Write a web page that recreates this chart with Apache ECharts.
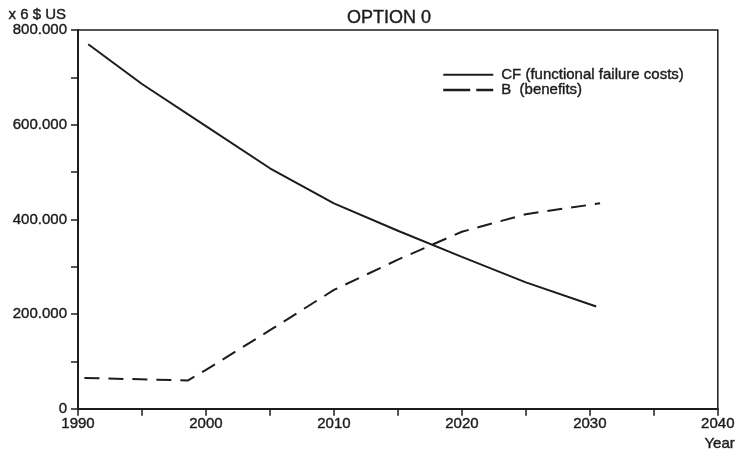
<!DOCTYPE html>
<html>
<head>
<meta charset="utf-8">
<script src="https://cdn.jsdelivr.net/npm/echarts@6/dist/echarts.min.js"></script>
<style>
  html, body { margin: 0; padding: 0; background: #fff; }
  #chart { width: 738px; height: 452px; }
</style>
</head>
<body>
<div id="chart"></div>
<script>
// Functional failure costs and benefits, in thousands (x 10^6 $ US)
const cfYears = [1990.8, 1995, 2000, 2005, 2010, 2015, 2020, 2025, 2030.5];
const cfValues = [770, 686, 597, 508, 434, 376, 321, 267, 216];

const bYears = [1990.5, 1998.6, 2000, 2005, 2010, 2015, 2020, 2025, 2030.8];
const bValues = [65, 60, 82, 166, 251, 315, 374, 411, 434];

const xTicks = [1990, 2000, 2010, 2020, 2030, 2040];
const yTicks = [0, 200, 400, 600, 800];

const seriesNames = ['CF (functional failure costs)', 'B  (benefits)'];

const ink = '#1c1c1c';
const font = 'Liberation Sans, Arial, sans-serif';
// slightly heavier glyphs
const heavy = { textBorderColor: ink, textBorderWidth: 0.4 };

const pairs = (xs, ys) => xs.map((x, i) => [x, ys[i]]);

const chart = echarts.init(document.getElementById('chart'), null, { renderer: 'canvas' });

chart.setOption({
  animation: false,
  backgroundColor: '#fff',
  textStyle: { fontFamily: font, color: ink },
  title: {
    text: 'OPTION 0',
    left: 342,
    top: 4,
    textStyle: Object.assign({ fontFamily: font, fontSize: 18, fontWeight: 'normal', color: ink }, heavy)
  },
  legend: {
    orient: 'vertical',
    left: 437,
    top: 62,
    itemWidth: 50,
    itemHeight: 14,
    itemGap: 0,
    itemStyle: { opacity: 0 },
    textStyle: Object.assign({ fontFamily: font, fontSize: 15, color: ink, padding: [0, 0, 0, 3] }, heavy),
    data: [
      { name: seriesNames[0], itemStyle: { opacity: 0 }, lineStyle: { width: 2, color: ink, type: 'solid' } },
      { name: seriesNames[1], itemStyle: { opacity: 0 }, lineStyle: { width: 2.5, color: ink, type: [27, 6] } }
    ]
  },
  grid: {
    left: 78,
    right: 16,
    top: 30,
    bottom: 43,
    show: true,
    borderColor: ink,
    borderWidth: 1.5,
    backgroundColor: 'transparent'
  },
  xAxis: {
    type: 'value',
    min: xTicks[0],
    max: xTicks[xTicks.length - 1],
    interval: 10,
    name: 'Year',
    nameLocation: 'end',
    nameGap: 17,
    nameTextStyle: Object.assign({
      fontFamily: font, fontSize: 15, color: ink,
      align: 'right', verticalAlign: 'top', padding: [28, 0, 0, 0]
    }, heavy),
    axisLine: { lineStyle: { color: ink, width: 2 } },
    axisTick: { show: true, length: 7, lineStyle: { color: ink, width: 1.5 } },
    minorTick: { show: true, splitNumber: 2, length: 7, lineStyle: { color: ink, width: 1.5 } },
    splitLine: { show: false },
    axisLabel: Object.assign({
      margin: 8,
      fontFamily: font, fontSize: 15, color: ink,
      formatter: v => String(v)
    }, heavy)
  },
  yAxis: {
    type: 'value',
    min: yTicks[0],
    max: yTicks[yTicks.length - 1],
    interval: 200,
    name: 'x 6 $ US',
    nameLocation: 'end',
    nameGap: 8,
    nameTextStyle: Object.assign({
      fontFamily: font, fontSize: 15, color: ink,
      align: 'right', padding: [0, 12, 0, 0]
    }, heavy),
    axisLine: { show: true, lineStyle: { color: ink, width: 2 } },
    axisTick: { show: true, length: 7, lineStyle: { color: ink, width: 1.5 } },
    minorTick: { show: true, splitNumber: 2, length: 7, lineStyle: { color: ink, width: 1.5 } },
    splitLine: { show: false },
    axisLabel: Object.assign({
      margin: 11,
      fontFamily: font, fontSize: 15, color: ink,
      formatter: v => (v === 0 ? '0' : v + '.000')
    }, heavy)
  },
  series: [
    {
      name: seriesNames[0],
      type: 'line',
      data: pairs(cfYears, cfValues),
      symbol: 'none',
      smooth: false,
      lineStyle: { color: ink, width: 2, type: 'solid' },
      itemStyle: { color: ink }
    },
    {
      name: seriesNames[1],
      type: 'line',
      data: pairs(bYears, bValues),
      symbol: 'none',
      smooth: false,
      lineStyle: { color: ink, width: 2, type: [15, 9] },
      itemStyle: { color: ink }
    }
  ]
});
</script>
</body>
</html>
